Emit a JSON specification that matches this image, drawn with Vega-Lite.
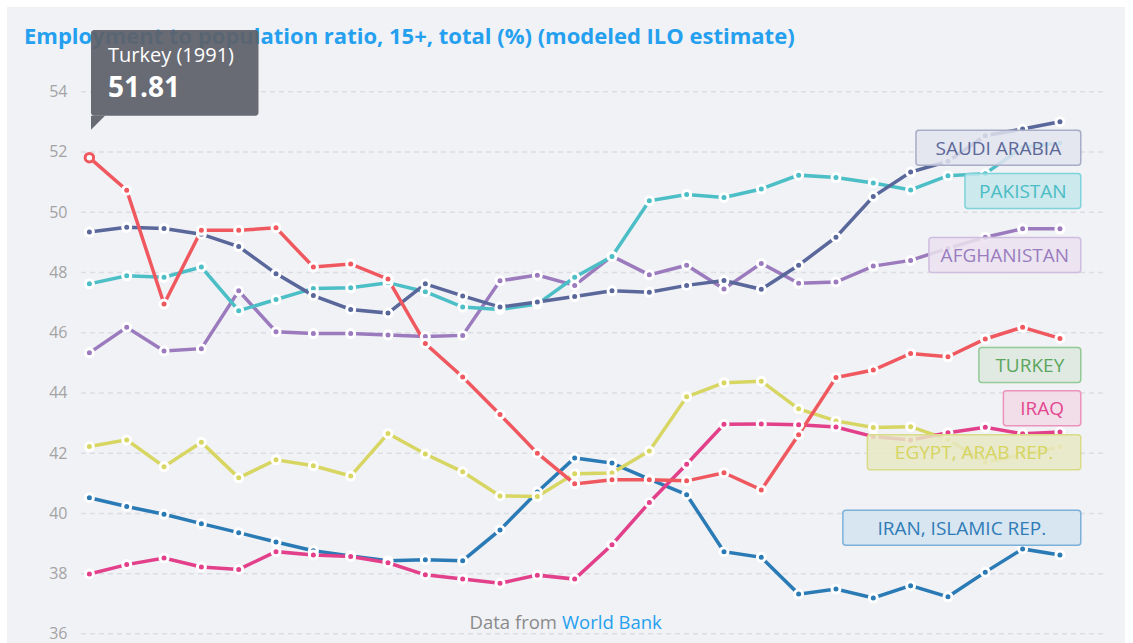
{
  "$schema": "https://vega.github.io/schema/vega-lite/v6.json",
  "width": 1118,
  "height": 636,
  "autosize": {"type": "none"},
  "padding": {"left": 7, "top": 7, "right": 8, "bottom": 0},
  "background": "#ffffff",
  "config": {
    "view": {"fill": "#f1f2f6", "stroke": null},
    "axisX": {"disable": true},
    "font": "Open Sans"
  },
  "resolve": {"scale": {"fill": "independent", "stroke": "independent"}},
  "datasets": {
    "ticks": [{"v": 36}, {"v": 38}, {"v": 40}, {"v": 42}, {"v": 44}, {"v": 46}, {"v": 48}, {"v": 50}, {"v": 52}, {"v": 54}],
    "labels": [
      {"country": "Saudi Arabia", "label": "SAUDI ARABIA", "ly": 52.14, "x0": 2013.143},
      {"country": "Pakistan", "label": "PAKISTAN", "ly": 50.70, "x0": 2014.456},
      {"country": "Afghanistan", "label": "AFGHANISTAN", "ly": 48.58, "x0": 2013.491},
      {"country": "Turkey", "label": "TURKEY", "ly": 44.93, "x0": 2014.829},
      {"country": "Iraq", "label": "IRAQ", "ly": 43.49, "x0": 2015.485},
      {"country": "Egypt, Arab Rep.", "label": "EGYPT, ARAB REP.", "ly": 42.03, "x0": 2011.841},
      {"country": "Iran, Islamic Rep.", "label": "IRAN, ISLAMIC REP.", "ly": 39.52, "x0": 2011.185}
    ],
    "series": [
      {"country": "Iran, Islamic Rep.", "year": 1991, "value": 40.52},
      {"country": "Iran, Islamic Rep.", "year": 1992, "value": 40.23},
      {"country": "Iran, Islamic Rep.", "year": 1993, "value": 39.97},
      {"country": "Iran, Islamic Rep.", "year": 1994, "value": 39.66},
      {"country": "Iran, Islamic Rep.", "year": 1995, "value": 39.36},
      {"country": "Iran, Islamic Rep.", "year": 1996, "value": 39.05},
      {"country": "Iran, Islamic Rep.", "year": 1997, "value": 38.76},
      {"country": "Iran, Islamic Rep.", "year": 1998, "value": 38.59},
      {"country": "Iran, Islamic Rep.", "year": 1999, "value": 38.43},
      {"country": "Iran, Islamic Rep.", "year": 2000, "value": 38.46},
      {"country": "Iran, Islamic Rep.", "year": 2001, "value": 38.43},
      {"country": "Iran, Islamic Rep.", "year": 2002, "value": 39.45},
      {"country": "Iran, Islamic Rep.", "year": 2003, "value": 40.71},
      {"country": "Iran, Islamic Rep.", "year": 2004, "value": 41.84},
      {"country": "Iran, Islamic Rep.", "year": 2005, "value": 41.67},
      {"country": "Iran, Islamic Rep.", "year": 2006, "value": 41.14},
      {"country": "Iran, Islamic Rep.", "year": 2007, "value": 40.62},
      {"country": "Iran, Islamic Rep.", "year": 2008, "value": 38.73},
      {"country": "Iran, Islamic Rep.", "year": 2009, "value": 38.54},
      {"country": "Iran, Islamic Rep.", "year": 2010, "value": 37.32},
      {"country": "Iran, Islamic Rep.", "year": 2011, "value": 37.49},
      {"country": "Iran, Islamic Rep.", "year": 2012, "value": 37.19},
      {"country": "Iran, Islamic Rep.", "year": 2013, "value": 37.60},
      {"country": "Iran, Islamic Rep.", "year": 2014, "value": 37.23},
      {"country": "Iran, Islamic Rep.", "year": 2015, "value": 38.05},
      {"country": "Iran, Islamic Rep.", "year": 2016, "value": 38.82},
      {"country": "Iran, Islamic Rep.", "year": 2017, "value": 38.62},
      {"country": "Egypt, Arab Rep.", "year": 1991, "value": 42.22},
      {"country": "Egypt, Arab Rep.", "year": 1992, "value": 42.44},
      {"country": "Egypt, Arab Rep.", "year": 1993, "value": 41.55},
      {"country": "Egypt, Arab Rep.", "year": 1994, "value": 42.36},
      {"country": "Egypt, Arab Rep.", "year": 1995, "value": 41.18},
      {"country": "Egypt, Arab Rep.", "year": 1996, "value": 41.78},
      {"country": "Egypt, Arab Rep.", "year": 1997, "value": 41.58},
      {"country": "Egypt, Arab Rep.", "year": 1998, "value": 41.24},
      {"country": "Egypt, Arab Rep.", "year": 1999, "value": 42.65},
      {"country": "Egypt, Arab Rep.", "year": 2000, "value": 41.97},
      {"country": "Egypt, Arab Rep.", "year": 2001, "value": 41.38},
      {"country": "Egypt, Arab Rep.", "year": 2002, "value": 40.58},
      {"country": "Egypt, Arab Rep.", "year": 2003, "value": 40.56},
      {"country": "Egypt, Arab Rep.", "year": 2004, "value": 41.32},
      {"country": "Egypt, Arab Rep.", "year": 2005, "value": 41.34},
      {"country": "Egypt, Arab Rep.", "year": 2006, "value": 42.07},
      {"country": "Egypt, Arab Rep.", "year": 2007, "value": 43.87},
      {"country": "Egypt, Arab Rep.", "year": 2008, "value": 44.34},
      {"country": "Egypt, Arab Rep.", "year": 2009, "value": 44.39},
      {"country": "Egypt, Arab Rep.", "year": 2010, "value": 43.47},
      {"country": "Egypt, Arab Rep.", "year": 2011, "value": 43.07},
      {"country": "Egypt, Arab Rep.", "year": 2012, "value": 42.85},
      {"country": "Egypt, Arab Rep.", "year": 2013, "value": 42.88},
      {"country": "Egypt, Arab Rep.", "year": 2014, "value": 42.45},
      {"country": "Egypt, Arab Rep.", "year": 2015, "value": 41.70},
      {"country": "Egypt, Arab Rep.", "year": 2016, "value": 41.94},
      {"country": "Egypt, Arab Rep.", "year": 2017, "value": 42.21},
      {"country": "Iraq", "year": 1991, "value": 37.99},
      {"country": "Iraq", "year": 1992, "value": 38.30},
      {"country": "Iraq", "year": 1993, "value": 38.52},
      {"country": "Iraq", "year": 1994, "value": 38.22},
      {"country": "Iraq", "year": 1995, "value": 38.14},
      {"country": "Iraq", "year": 1996, "value": 38.73},
      {"country": "Iraq", "year": 1997, "value": 38.62},
      {"country": "Iraq", "year": 1998, "value": 38.57},
      {"country": "Iraq", "year": 1999, "value": 38.36},
      {"country": "Iraq", "year": 2000, "value": 37.96},
      {"country": "Iraq", "year": 2001, "value": 37.82},
      {"country": "Iraq", "year": 2002, "value": 37.68},
      {"country": "Iraq", "year": 2003, "value": 37.95},
      {"country": "Iraq", "year": 2004, "value": 37.82},
      {"country": "Iraq", "year": 2005, "value": 38.96},
      {"country": "Iraq", "year": 2006, "value": 40.36},
      {"country": "Iraq", "year": 2007, "value": 41.63},
      {"country": "Iraq", "year": 2008, "value": 42.96},
      {"country": "Iraq", "year": 2009, "value": 42.97},
      {"country": "Iraq", "year": 2010, "value": 42.94},
      {"country": "Iraq", "year": 2011, "value": 42.87},
      {"country": "Iraq", "year": 2012, "value": 42.55},
      {"country": "Iraq", "year": 2013, "value": 42.44},
      {"country": "Iraq", "year": 2014, "value": 42.68},
      {"country": "Iraq", "year": 2015, "value": 42.86},
      {"country": "Iraq", "year": 2016, "value": 42.64},
      {"country": "Iraq", "year": 2017, "value": 42.70},
      {"country": "Afghanistan", "year": 1991, "value": 45.33},
      {"country": "Afghanistan", "year": 1992, "value": 46.18},
      {"country": "Afghanistan", "year": 1993, "value": 45.39},
      {"country": "Afghanistan", "year": 1994, "value": 45.47},
      {"country": "Afghanistan", "year": 1995, "value": 47.39},
      {"country": "Afghanistan", "year": 1996, "value": 46.03},
      {"country": "Afghanistan", "year": 1997, "value": 45.97},
      {"country": "Afghanistan", "year": 1998, "value": 45.97},
      {"country": "Afghanistan", "year": 1999, "value": 45.92},
      {"country": "Afghanistan", "year": 2000, "value": 45.87},
      {"country": "Afghanistan", "year": 2001, "value": 45.91},
      {"country": "Afghanistan", "year": 2002, "value": 47.72},
      {"country": "Afghanistan", "year": 2003, "value": 47.91},
      {"country": "Afghanistan", "year": 2004, "value": 47.57},
      {"country": "Afghanistan", "year": 2005, "value": 48.54},
      {"country": "Afghanistan", "year": 2006, "value": 47.92},
      {"country": "Afghanistan", "year": 2007, "value": 48.24},
      {"country": "Afghanistan", "year": 2008, "value": 47.45},
      {"country": "Afghanistan", "year": 2009, "value": 48.30},
      {"country": "Afghanistan", "year": 2010, "value": 47.64},
      {"country": "Afghanistan", "year": 2011, "value": 47.68},
      {"country": "Afghanistan", "year": 2012, "value": 48.21},
      {"country": "Afghanistan", "year": 2013, "value": 48.40},
      {"country": "Afghanistan", "year": 2014, "value": 48.80},
      {"country": "Afghanistan", "year": 2015, "value": 49.17},
      {"country": "Afghanistan", "year": 2016, "value": 49.45},
      {"country": "Afghanistan", "year": 2017, "value": 49.45},
      {"country": "Pakistan", "year": 1991, "value": 47.62},
      {"country": "Pakistan", "year": 1992, "value": 47.89},
      {"country": "Pakistan", "year": 1993, "value": 47.84},
      {"country": "Pakistan", "year": 1994, "value": 48.18},
      {"country": "Pakistan", "year": 1995, "value": 46.73},
      {"country": "Pakistan", "year": 1996, "value": 47.10},
      {"country": "Pakistan", "year": 1997, "value": 47.47},
      {"country": "Pakistan", "year": 1998, "value": 47.49},
      {"country": "Pakistan", "year": 1999, "value": 47.66},
      {"country": "Pakistan", "year": 2000, "value": 47.36},
      {"country": "Pakistan", "year": 2001, "value": 46.85},
      {"country": "Pakistan", "year": 2002, "value": 46.77},
      {"country": "Pakistan", "year": 2003, "value": 46.95},
      {"country": "Pakistan", "year": 2004, "value": 47.84},
      {"country": "Pakistan", "year": 2005, "value": 48.53},
      {"country": "Pakistan", "year": 2006, "value": 50.38},
      {"country": "Pakistan", "year": 2007, "value": 50.59},
      {"country": "Pakistan", "year": 2008, "value": 50.49},
      {"country": "Pakistan", "year": 2009, "value": 50.77},
      {"country": "Pakistan", "year": 2010, "value": 51.23},
      {"country": "Pakistan", "year": 2011, "value": 51.15},
      {"country": "Pakistan", "year": 2012, "value": 50.97},
      {"country": "Pakistan", "year": 2013, "value": 50.74},
      {"country": "Pakistan", "year": 2014, "value": 51.21},
      {"country": "Pakistan", "year": 2015, "value": 51.28},
      {"country": "Pakistan", "year": 2016, "value": 52.15},
      {"country": "Pakistan", "year": 2017, "value": 52.30},
      {"country": "Saudi Arabia", "year": 1991, "value": 49.34},
      {"country": "Saudi Arabia", "year": 1992, "value": 49.50},
      {"country": "Saudi Arabia", "year": 1993, "value": 49.46},
      {"country": "Saudi Arabia", "year": 1994, "value": 49.27},
      {"country": "Saudi Arabia", "year": 1995, "value": 48.86},
      {"country": "Saudi Arabia", "year": 1996, "value": 47.96},
      {"country": "Saudi Arabia", "year": 1997, "value": 47.23},
      {"country": "Saudi Arabia", "year": 1998, "value": 46.77},
      {"country": "Saudi Arabia", "year": 1999, "value": 46.65},
      {"country": "Saudi Arabia", "year": 2000, "value": 47.62},
      {"country": "Saudi Arabia", "year": 2001, "value": 47.22},
      {"country": "Saudi Arabia", "year": 2002, "value": 46.85},
      {"country": "Saudi Arabia", "year": 2003, "value": 47.02},
      {"country": "Saudi Arabia", "year": 2004, "value": 47.20},
      {"country": "Saudi Arabia", "year": 2005, "value": 47.39},
      {"country": "Saudi Arabia", "year": 2006, "value": 47.34},
      {"country": "Saudi Arabia", "year": 2007, "value": 47.57},
      {"country": "Saudi Arabia", "year": 2008, "value": 47.73},
      {"country": "Saudi Arabia", "year": 2009, "value": 47.44},
      {"country": "Saudi Arabia", "year": 2010, "value": 48.24},
      {"country": "Saudi Arabia", "year": 2011, "value": 49.17},
      {"country": "Saudi Arabia", "year": 2012, "value": 50.52},
      {"country": "Saudi Arabia", "year": 2013, "value": 51.33},
      {"country": "Saudi Arabia", "year": 2014, "value": 51.69},
      {"country": "Saudi Arabia", "year": 2015, "value": 52.54},
      {"country": "Saudi Arabia", "year": 2016, "value": 52.76},
      {"country": "Saudi Arabia", "year": 2017, "value": 53.00},
      {"country": "Turkey", "year": 1991, "value": 51.81},
      {"country": "Turkey", "year": 1992, "value": 50.73},
      {"country": "Turkey", "year": 1993, "value": 46.95},
      {"country": "Turkey", "year": 1994, "value": 49.40},
      {"country": "Turkey", "year": 1995, "value": 49.40},
      {"country": "Turkey", "year": 1996, "value": 49.48},
      {"country": "Turkey", "year": 1997, "value": 48.18},
      {"country": "Turkey", "year": 1998, "value": 48.28},
      {"country": "Turkey", "year": 1999, "value": 47.78},
      {"country": "Turkey", "year": 2000, "value": 45.64},
      {"country": "Turkey", "year": 2001, "value": 44.53},
      {"country": "Turkey", "year": 2002, "value": 43.28},
      {"country": "Turkey", "year": 2003, "value": 42.00},
      {"country": "Turkey", "year": 2004, "value": 40.98},
      {"country": "Turkey", "year": 2005, "value": 41.12},
      {"country": "Turkey", "year": 2006, "value": 41.12},
      {"country": "Turkey", "year": 2007, "value": 41.08},
      {"country": "Turkey", "year": 2008, "value": 41.35},
      {"country": "Turkey", "year": 2009, "value": 40.78},
      {"country": "Turkey", "year": 2010, "value": 42.61},
      {"country": "Turkey", "year": 2011, "value": 44.51},
      {"country": "Turkey", "year": 2012, "value": 44.76},
      {"country": "Turkey", "year": 2013, "value": 45.31},
      {"country": "Turkey", "year": 2014, "value": 45.20},
      {"country": "Turkey", "year": 2015, "value": 45.79},
      {"country": "Turkey", "year": 2016, "value": 46.18},
      {"country": "Turkey", "year": 2017, "value": 45.81}
    ]
  },
  "layer": [
    {
      "data": {"name": "ticks"},
      "mark": {"type": "rule", "strokeDash": [5, 4], "color": "#dcdde3", "strokeWidth": 1.5},
      "encoding": {
        "y": {
          "field": "v", "type": "quantitative",
          "scale": {"domain": [35.697, 56.812], "nice": false, "zero": false},
          "axis": {
            "values": [36, 38, 40, 42, 44, 46, 48, 50, 52, 54],
            "grid": false, "domain": false, "ticks": false,
            "offset": -74, "labelPadding": 14,
            "labelColor": "#a3a3a3", "labelFontSize": 16, "labelFont": "Open Sans",
            "title": null
          }
        },
        "x": {"datum": 1990.775, "scale": {"domain": [1988.793, 2018.743], "nice": false, "zero": false}, "axis": null},
        "x2": {"datum": 2018.233}
      }
    },
    {
      "data": {"values": [{}]},
      "mark": {"type": "text", "text": "Employment to population ratio, 15+, total (%) (modeled ILO estimate)", "align": "left", "baseline": "alphabetic", "font": "Open Sans", "fontSize": 22, "fontWeight": "bold", "color": "#25a0ef"},
      "encoding": {"x": {"datum": 1989.248}, "y": {"datum": 55.584, "title": null}}
    },
    {
      "data": {"name": "series"},
      "mark": {"type": "line", "strokeWidth": 3.5},
      "encoding": {
        "x": {"field": "year", "type": "quantitative"},
        "y": {"field": "value", "type": "quantitative", "title": null},
        "color": {
          "field": "country", "type": "nominal", "legend": null,
          "scale": {
            "domain": ["Turkey", "Saudi Arabia", "Pakistan", "Afghanistan", "Egypt, Arab Rep.", "Iraq", "Iran, Islamic Rep."],
            "range": ["#f0585f", "#59679b", "#4bbec6", "#9b7bbd", "#d8d663", "#e2408a", "#2a7ab5"]
          }
        }
      }
    },
    {
      "data": {"name": "series"},
      "mark": {"type": "circle", "size": 64, "stroke": "#ffffff", "strokeWidth": 3, "opacity": 1},
      "encoding": {
        "x": {"field": "year", "type": "quantitative"},
        "y": {"field": "value", "type": "quantitative", "title": null},
        "color": {"field": "country", "type": "nominal", "legend": null}
      }
    },
    {
      "data": {"name": "series"},
      "transform": [{"filter": "datum.country == 'Turkey' && datum.year == 1991"}],
      "mark": {"type": "point", "filled": true, "fill": "#ffffff", "stroke": "#f0585f", "strokeWidth": 3, "size": 72, "opacity": 1},
      "encoding": {
        "x": {"field": "year", "type": "quantitative"},
        "y": {"field": "value", "type": "quantitative", "title": null}
      }
    },
    {
      "data": {"name": "labels"},
      "mark": {"type": "rect", "height": 35, "cornerRadius": 3, "fillOpacity": 0.85, "strokeWidth": 1.5},
      "encoding": {
        "x": {"field": "x0", "type": "quantitative"},
        "x2": {"datum": 2017.558},
        "y": {"field": "ly", "type": "quantitative", "title": null},
        "fill": {
          "field": "country", "type": "nominal", "legend": null,
          "scale": {
            "domain": ["Turkey", "Saudi Arabia", "Pakistan", "Afghanistan", "Egypt, Arab Rep.", "Iraq", "Iran, Islamic Rep."],
            "range": ["#dde9df", "#e2e4ef", "#c6e8ec", "#ebe3f0", "#e8e8c3", "#f2dbe6", "#d3e4f0"]
          }
        },
        "stroke": {
          "field": "country", "type": "nominal", "legend": null,
          "scale": {
            "domain": ["Turkey", "Saudi Arabia", "Pakistan", "Afghanistan", "Egypt, Arab Rep.", "Iraq", "Iran, Islamic Rep."],
            "range": ["#93c994", "#a7acc7", "#7fd3da", "#cfbde0", "#dadb87", "#ec93bd", "#7cb0d8"]
          }
        }
      }
    },
    {
      "data": {"name": "labels"},
      "transform": [{"calculate": "(datum.x0 + 2017.558) / 2", "as": "xc"}],
      "mark": {"type": "text", "align": "center", "baseline": "middle", "font": "Open Sans", "fontSize": 19, "fontWeight": "normal", "dy": 1},
      "encoding": {
        "x": {"field": "xc", "type": "quantitative"},
        "y": {"field": "ly", "type": "quantitative", "title": null},
        "text": {"field": "label"},
        "fill": {
          "field": "country", "type": "nominal", "legend": null,
          "scale": {
            "domain": ["Turkey", "Saudi Arabia", "Pakistan", "Afghanistan", "Egypt, Arab Rep.", "Iraq", "Iran, Islamic Rep."],
            "range": ["#5ba65c", "#5b6898", "#4bbcc3", "#9a7cbf", "#d6d562", "#e2478f", "#2f7bb7"]
          }
        }
      }
    },
    {
      "data": {"values": [{}]},
      "mark": {"type": "text", "text": "Data from", "align": "right", "baseline": "alphabetic", "dx": -5, "font": "Open Sans", "fontSize": 18.5, "color": "#8a8a8a"},
      "encoding": {"x": {"datum": 2003.66}, "y": {"datum": 36.151, "title": null}}
    },
    {
      "data": {"values": [{}]},
      "mark": {"type": "text", "text": "World Bank", "align": "left", "baseline": "alphabetic", "font": "Open Sans", "fontSize": 18.5, "color": "#25a0ef"},
      "encoding": {"x": {"datum": 2003.66}, "y": {"datum": 36.151, "title": null}}
    },
    {
      "data": {"values": [{}]},
      "mark": {"type": "rect", "fill": "#5e6168", "fillOpacity": 0.93, "cornerRadius": 3},
      "encoding": {
        "x": {"datum": 1991.043}, "x2": {"datum": 1995.53},
        "y": {"datum": 56.048, "title": null}, "y2": {"datum": 53.203}
      }
    },
    {
      "data": {"values": [{}]},
      "mark": {"type": "point", "shape": "M-1,-1L1,-1L-1,1Z", "filled": true, "fill": "#5e6168", "fillOpacity": 0.93, "size": 196, "strokeWidth": 0, "opacity": 1},
      "encoding": {"x": {"datum": 1991.231}, "y": {"datum": 52.966, "title": null}}
    },
    {
      "data": {"values": [{}]},
      "mark": {"type": "text", "text": "Turkey (1991)", "align": "left", "baseline": "alphabetic", "font": "Open Sans", "fontSize": 20, "color": "#ffffff"},
      "encoding": {"x": {"datum": 1991.499}, "y": {"datum": 54.996, "title": null}}
    },
    {
      "data": {"values": [{}]},
      "mark": {"type": "text", "text": "51.81", "align": "left", "baseline": "alphabetic", "font": "Open Sans", "fontSize": 28, "fontWeight": "bold", "color": "#ffffff"},
      "encoding": {"x": {"datum": 1991.499}, "y": {"datum": 53.814, "title": null}}
    }
  ]
}
